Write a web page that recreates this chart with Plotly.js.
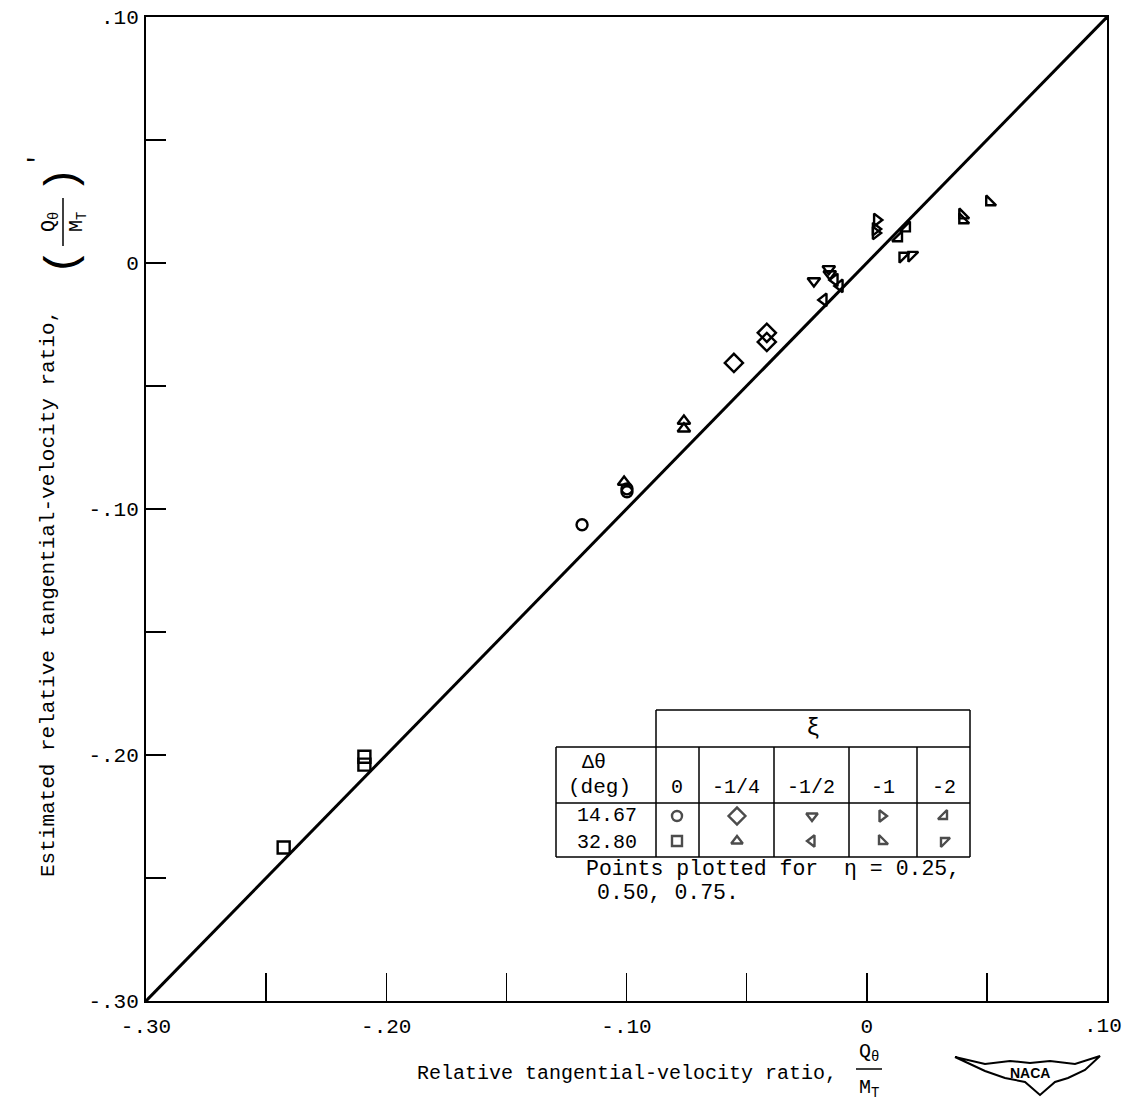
<!DOCTYPE html>
<html>
<head>
<meta charset="utf-8">
<script src="https://cdn.plot.ly/plotly-3.0.1.min.js"></script>
<style>html,body{margin:0;padding:0;background:#fff;}#chart{width:1123px;height:1117px;}</style>
</head>
<body>
<div id="chart"></div>
<script>
// ---- data ----
const lineX = [-0.30, 0.10];
const lineY = [-0.30, 0.10];

// Δθ = 14.67 deg
const c0x = [-0.1185, -0.0998, -0.0998];   const c0y = [-0.1064, -0.0918, -0.0930];   // ξ = 0
const c1x = [-0.0553, -0.0416, -0.0416];   const c1y = [-0.0406, -0.0284, -0.0321];   // ξ = -1/4
const c2x = [-0.0220, -0.0158, -0.0154];   const c2y = [-0.0073, -0.0024, -0.0045];   // ξ = -1/2
const c3x = [0.0042, 0.0037, 0.0037];      const c3y = [0.0175, 0.0138, 0.0122];      // ξ = -1
const c4x = [0.0133, 0.0166];              const c4y = [0.0102, 0.0142];              // ξ = -2
// Δθ = 32.80 deg
const d0x = [-0.2091, -0.2091, -0.2427];   const d0y = [-0.2007, -0.2039, -0.2376];   // ξ = 0
const d1x = [-0.1010, -0.0761, -0.0761];   const d1y = [-0.0890, -0.0642, -0.0674];   // ξ = -1/4
const d2x = [-0.0179, -0.0133, -0.0112];   const d2y = [-0.0150, -0.0069, -0.0093];   // ξ = -1/2
const d3x = [0.0399, 0.0399, 0.0511];      const d3y = [0.0195, 0.0175, 0.0248];      // ξ = -1
const d4x = [0.0150, 0.0187];              const d4y = [0.0028, 0.0032];              // ξ = -2

const xTickVals = [-0.30, -0.25, -0.20, -0.15, -0.10, -0.05, 0, 0.05, 0.10];
const xTickText = ['-.30', '', '-.20', '', '-.10', '', '0', '', '.10'];
const yTickVals = [-0.30, -0.25, -0.20, -0.15, -0.10, -0.05, 0, 0.05, 0.10];
const yTickText = ['-.30', '', '-.20', '', '-.10', '', '0', '', '.10'];

const xiLabels = ['0', '-1/4', '-1/2', '-1', '-2'];
const dThetaLabels = ['14.67', '32.80'];
const symbolsRow1 = ['circle-open', 'diamond-open', 'triangle-down-open', 'triangle-right-open', 'triangle-se-open'];
const symbolsRow2 = ['square-open', 'triangle-up-open', 'triangle-left-open', 'triangle-sw-open', 'triangle-nw-open'];

// ---- layout helpers (pixel -> paper) ----
const W = 1123, H = 1117, L = 146, R = 1107, T = 17, B = 1001;
const px = p => (p - L) / (R - L);
const py = p => (B - p) / (B - T);
const FONT = 'Liberation Mono, DejaVu Sans Mono, monospace';
const INK = '#000';

function mk(x, y, sym, size) {
  return {x: x, y: y, type: 'scatter', mode: 'markers', hoverinfo: 'skip',
    marker: {symbol: sym, size: size || 11, color: INK, line: {color: INK, width: 2.4}}};
}

const traces = [
  {x: lineX, y: lineY, type: 'scatter', mode: 'lines', line: {color: INK, width: 3}, hoverinfo: 'skip'},
  mk(c0x, c0y, 'circle-open', 11),
  mk(c1x, c1y, 'diamond-open', 14),
  mk(c2x, c2y, 'triangle-down-open', 11),
  mk(c3x, c3y, 'triangle-right-open', 11),
  mk(c4x, c4y, 'triangle-se-open', 11),
  mk(d0x, d0y, 'square-open', 12),
  mk(d1x, d1y, 'triangle-up-open', 11),
  mk(d2x, d2y, 'triangle-left-open', 11),
  mk(d3x, d3y, 'triangle-sw-open', 11),
  mk(d4x, d4y, 'triangle-nw-open', 11)
];

// legend keys on an overlay axis spanning the plot area in paper units
const colCenters = [677, 737, 812, 882, 944];
const keyX1 = [], keyY1 = [], keyX2 = [], keyY2 = [];
colCenters.forEach(c => { keyX1.push(px(c)); keyY1.push(py(816)); keyX2.push(px(c)); keyY2.push(py(841)); });
traces.push({x: keyX1, y: keyY1, xaxis: 'x2', yaxis: 'y2', type: 'scatter', mode: 'markers', hoverinfo: 'skip',
  marker: {symbol: symbolsRow1, size: [10, 13, 10, 10, 10], color: INK, line: {color: INK, width: 2.4}}});
traces.push({x: keyX2, y: keyY2, xaxis: 'x2', yaxis: 'y2', type: 'scatter', mode: 'markers', hoverinfo: 'skip',
  marker: {symbol: symbolsRow2, size: [10, 10, 10, 10, 10], color: INK, line: {color: INK, width: 2.4}}});

// ---- shapes: legend table ----
const shapes = [];
function ln(x0, y0, x1, y1, w) {
  shapes.push({type: 'line', xref: 'paper', yref: 'paper', x0: px(x0), y0: py(y0), x1: px(x1), y1: py(y1),
    line: {color: INK, width: w || 1.5}});
}
ln(656, 710, 970, 710);
ln(556, 747, 970, 747);
ln(556, 803, 970, 803);
ln(556, 857, 970, 857);
ln(556, 747, 556, 857);
ln(656, 710, 656, 857);
ln(970, 710, 970, 857);
[699, 774, 849, 917].forEach(v => ln(v, 747, v, 857));
// fraction bars
ln(856, 1069, 882, 1069, 1.5);
ln(63, 198, 63, 246, 1.5);
// NACA logo outline
const logo = [[955,1057],[985,1064],[1010,1061],[1030,1063],[1050,1061],[1075,1064],[1100,1056],[1085,1070],[1068,1078],[1055,1082],[1040,1095],[1025,1082],[1005,1078],[985,1071]];
let path = 'M ' + logo.map(p => px(p[0]) + ' ' + py(p[1])).join(' L ') + ' Z';
shapes.push({type: 'path', xref: 'paper', yref: 'paper', path: path, line: {color: INK, width: 2}, fillcolor: 'rgba(0,0,0,0)'});

// ---- annotations ----
const ann = [];
function tx(text, x, y, size, opts) {
  ann.push(Object.assign({text: text, xref: 'paper', yref: 'paper', x: px(x), y: py(y), showarrow: false,
    xanchor: 'center', yanchor: 'middle', font: {family: FONT, size: size || 20, color: INK}}, opts || {}));
}
// last x tick label drawn as text so it stays inside the page edge
tx(xTickText[xTickText.length - 1], 1103, 1026, 21);
tx('ξ', 813, 728, 24);
tx('Δθ', 594, 763, 20);
tx('(deg)', 599, 787, 21);
xiLabels.forEach((s, i) => tx(s, [677, 736, 811, 883, 944][i], 787, 20));
tx(dThetaLabels[0], 607, 815, 20);
tx(dThetaLabels[1], 607, 842, 20);
tx('Points plotted for  η = 0.25,', 773, 869, 21.5);
tx('0.50, 0.75.', 668, 893, 21.5);
// x-axis title
tx('Relative tangential-velocity ratio,', 627, 1073, 20);
tx('Q<sub>θ</sub>', 869, 1052, 20);
tx('M<sub>T</sub>', 869, 1088, 20);
// y-axis title
tx('Estimated relative tangential-velocity ratio,', 48, 594, 21, {textangle: -90});
tx('(', 63, 262, 44, {textangle: -90});
tx('Q<sub>θ</sub>', 49, 222, 20, {textangle: -90});
tx('M<sub>T</sub>', 77, 222, 20, {textangle: -90});
tx(')', 63, 180, 44, {textangle: -90});
tx('′', 38, 160, 24, {textangle: -90});
// logo text
ann.push({text: '<b>NACA</b>', xref: 'paper', yref: 'paper', x: px(1030), y: py(1073), showarrow: false,
  xanchor: 'center', yanchor: 'middle', font: {family: 'Liberation Sans, Arial, sans-serif', size: 14, color: INK}});

const xTickTextAxis = xTickText.slice(0, -1).concat(['']);

const layout = {
  width: W, height: H,
  margin: {l: L, r: W - R, t: T, b: H - B, pad: 0},
  paper_bgcolor: '#fff', plot_bgcolor: '#fff',
  showlegend: false,
  font: {family: FONT, size: 20, color: INK},
  xaxis: {range: [-0.30, 0.10], tickvals: xTickVals, ticktext: xTickTextAxis, ticks: 'inside', ticklen: 28,
    tickwidth: 1.5, tickcolor: INK, showgrid: false, zeroline: false, showline: true, linecolor: INK,
    linewidth: 2, mirror: true, ticklabelstandoff: 5, ticklabeloverflow: 'allow',
    tickfont: {family: FONT, size: 21, color: INK}},
  yaxis: {range: [-0.30, 0.10], tickvals: yTickVals, ticktext: yTickText, ticks: 'inside', ticklen: 20,
    tickwidth: 1.5, tickcolor: INK, showgrid: false, zeroline: false, showline: true, linecolor: INK,
    linewidth: 2, mirror: true, ticklabelstandoff: 1, ticklabeloverflow: 'allow',
    tickfont: {family: FONT, size: 21, color: INK}},
  xaxis2: {overlaying: 'x', range: [0, 1], visible: false, fixedrange: true},
  yaxis2: {overlaying: 'y', range: [0, 1], visible: false, fixedrange: true},
  shapes: shapes,
  annotations: ann
};

Plotly.newPlot('chart', traces, layout, {staticPlot: true, displayModeBar: false});
</script>
</body>
</html>
